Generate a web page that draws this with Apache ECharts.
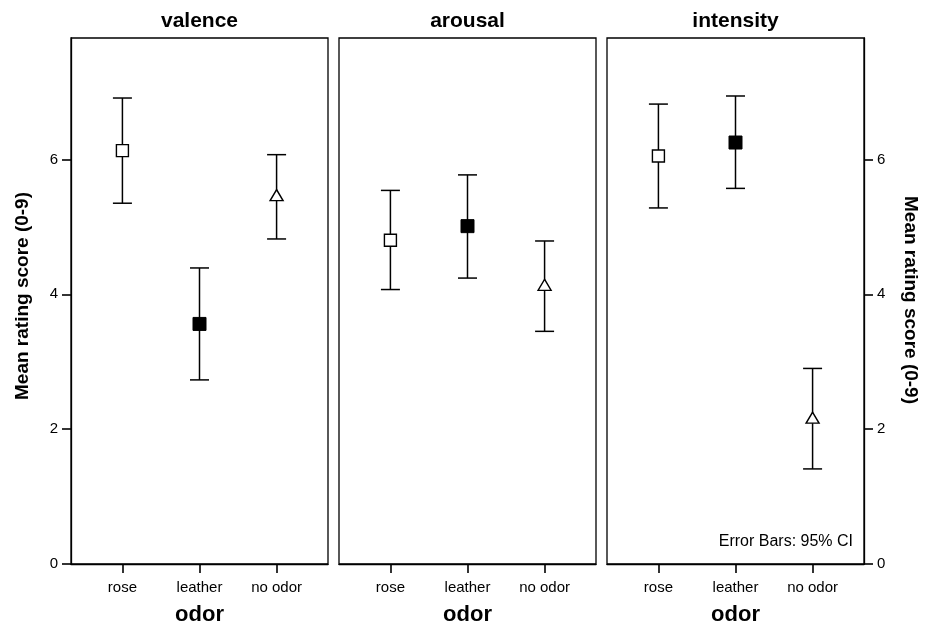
<!DOCTYPE html>
<html>
<head>
<meta charset="utf-8">
<script src="https://cdn.jsdelivr.net/npm/echarts@6/dist/echarts.min.js"></script>
<style>
html,body{margin:0;padding:0;background:#fff;}
#chart{width:931px;height:626px;}
</style>
</head>
<body>
<div id="chart"></div>
<script>
var categories = ['rose', 'leather', 'no odor'];
var panelTitles = ['valence', 'arousal', 'intensity'];
var yTicks = [0, 2, 4, 6];

var valenceMean = [6.13, 3.56, 5.47];
var valenceLow  = [5.35, 2.73, 4.82];
var valenceHigh = [6.91, 4.39, 6.07];

var arousalMean = [4.80, 5.01, 4.14];
var arousalLow  = [4.07, 4.24, 3.45];
var arousalHigh = [5.54, 5.77, 4.79];

var intensityMean = [6.05, 6.25, 2.17];
var intensityLow  = [5.28, 5.57, 1.41];
var intensityHigh = [6.82, 6.94, 2.90];

var yName = 'Mean rating score (0-9)';
var xName = 'odor';
var note = 'Error Bars: 95% CI';

var means = [valenceMean, arousalMean, intensityMean];
var lows = [valenceLow, arousalLow, intensityLow];
var highs = [valenceHigh, arousalHigh, intensityHigh];

var FONT = '"Liberation Sans", Arial, Helvetica, sans-serif';
var gridLefts = [71, 339, 607];
var gridW = 257, gridTop = 38, gridBottom = 62;

var grids = [], xAxes = [], yAxes = [], series = [], graphics = [];

gridLefts.forEach(function (L, p) {
  grids.push({left: L, width: gridW, top: gridTop, bottom: gridBottom,
    show: true, borderColor: '#000', borderWidth: 1.3, backgroundColor: 'transparent'});
  xAxes.push({
    gridIndex: p, type: 'value', min: -0.667, max: 2.667,
    axisLine: {show: true, onZero: false, lineStyle: {color: '#000', width: 1.3}},
    axisTick: {show: true, customValues: [0, 1, 2], length: 9, inside: false, lineStyle: {color: '#000', width: 1.6}},
    axisLabel: {show: true, customValues: [0, 1, 2], margin: 16, color: '#000', fontSize: 15, fontFamily: FONT,
      formatter: function (v) { return categories[Math.round(v)]; }},
    splitLine: {show: false}
  });
  var showY = (p !== 1);
  yAxes.push({
    gridIndex: p, type: 'value', min: 0, max: 7.8,
    position: p === 2 ? 'right' : 'left',
    axisLine: {show: showY, onZero: false, lineStyle: {color: '#000', width: 1.3}},
    axisTick: {show: showY, customValues: yTicks, length: 9, lineStyle: {color: '#000', width: 1.6}},
    axisLabel: {show: showY, customValues: yTicks, margin: 13, color: '#000', fontSize: 15, fontFamily: FONT},
    splitLine: {show: false}
  });

  var errData = categories.map(function (c, i) { return [i, lows[p][i], highs[p][i]]; });
  series.push({
    type: 'custom', xAxisIndex: p, yAxisIndex: p, data: errData, z: 2,
    renderItem: function (params, api) {
      var x = api.value(0);
      var lo = api.coord([x, api.value(1)]);
      var hi = api.coord([x, api.value(2)]);
      var hw = 9.5;
      var st = {stroke: '#000', lineWidth: 1.5};
      return {type: 'group', children: [
        {type: 'line', shape: {x1: lo[0], y1: lo[1], x2: hi[0], y2: hi[1]}, style: st},
        {type: 'line', shape: {x1: lo[0] - hw, y1: lo[1], x2: lo[0] + hw, y2: lo[1]}, style: st},
        {type: 'line', shape: {x1: hi[0] - hw, y1: hi[1], x2: hi[0] + hw, y2: hi[1]}, style: st}
      ]};
    }
  });
  series.push({
    type: 'scatter', xAxisIndex: p, yAxisIndex: p, z: 3,
    itemStyle: {opacity: 1},
    data: [
      {value: [0, means[p][0]], symbol: 'rect', symbolSize: 12, itemStyle: {color: '#fff', borderColor: '#000', borderWidth: 1.4, opacity: 1}},
      {value: [1, means[p][1]], symbol: 'rect', symbolSize: 13, itemStyle: {color: '#000', borderColor: '#000', borderWidth: 1, opacity: 1}},
      {value: [2, means[p][2]], symbol: 'triangle', symbolSize: [13, 11], itemStyle: {color: '#fff', borderColor: '#000', borderWidth: 1.4, opacity: 1}}
    ],
    emphasis: {disabled: true}
  });

  graphics.push({type: 'text', x: L + gridW / 2, y: 21,
    style: {text: panelTitles[p], fill: '#000', font: 'bold 21px ' + FONT, textAlign: 'center', textVerticalAlign: 'middle'}});
  graphics.push({type: 'text', x: L + gridW / 2, y: 615,
    style: {text: xName, fill: '#000', font: 'bold 22px ' + FONT, textAlign: 'center', textVerticalAlign: 'middle'}});
});

graphics.push({type: 'text', x: 23, y: 296, rotation: Math.PI / 2,
  style: {text: yName, fill: '#000', font: 'bold 19px ' + FONT, textAlign: 'center', textVerticalAlign: 'middle'}});
graphics.push({type: 'text', x: 910, y: 300, rotation: -Math.PI / 2,
  style: {text: yName, fill: '#000', font: 'bold 19px ' + FONT, textAlign: 'center', textVerticalAlign: 'middle'}});
graphics.push({type: 'text', x: 853, y: 542,
  style: {text: note, fill: '#000', font: '16px ' + FONT, textAlign: 'right', textVerticalAlign: 'middle'}});

var chart = echarts.init(document.getElementById('chart'), null, {renderer: 'canvas'});
chart.setOption({
  animation: false,
  backgroundColor: '#fff',
  grid: grids, xAxis: xAxes, yAxis: yAxes, series: series, graphic: graphics
});
</script>
</body>
</html>
